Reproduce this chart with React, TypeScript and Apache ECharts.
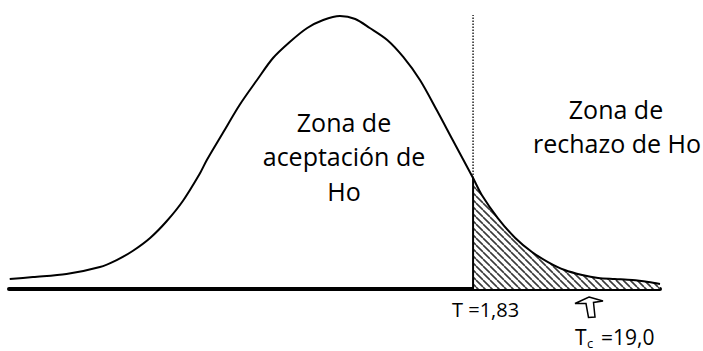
import React, { useEffect, useRef } from 'react';
import * as echarts from 'echarts';

// Curve: t (horizontal, schematic) and density height
const CURVE_T = [-4.54, -4.22, -3.76, -3.30, -3.07, -2.85, -2.61, -2.38, -2.16, -1.93, -1.83, -1.61, -1.38, -1.14, -0.92, -0.69, -0.45, -0.23, 0, 0.21, 0.41, 0.65, 0.87, 1.10, 1.33, 1.55, 1.83, 1.95, 2.17, 2.41, 2.64, 2.86, 3.09, 3.33, 3.55, 3.78, 4.02, 4.24, 4.40];
const CURVE_F = [0.0146, 0.0175, 0.0219, 0.0321, 0.0423, 0.0555, 0.0745, 0.0993, 0.1285, 0.1679, 0.1883, 0.2277, 0.2686, 0.3051, 0.3372, 0.3606, 0.3810, 0.3927, 0.3985, 0.3942, 0.3810, 0.3635, 0.3387, 0.3051, 0.2613, 0.2175, 0.1620, 0.1372, 0.1036, 0.0745, 0.0540, 0.0394, 0.0277, 0.0204, 0.0161, 0.0146, 0.0131, 0.0102, 0.0073];
const T_CRIT = 1.83;
const AXIS_MIN = -4.55;
const AXIS_MAX = 4.4;
const Y_MAX = 0.4;

const ACCEPT_LINES = ['Zona de', 'aceptación de', 'Ho'];
const REJECT_LINES = ['Zona de', 'rechazo de Ho'];
const T_LABEL = 'T =1,83';
const TC_MAIN = 'T';
const TC_SUB = 'c';
const TC_VALUE = '=19,0';

function makeHatch(): HTMLCanvasElement {
  const c = document.createElement('canvas');
  const p = 7;
  c.width = p;
  c.height = p;
  const ctx = c.getContext('2d')!;
  ctx.fillStyle = '#ffffff';
  ctx.fillRect(0, 0, p, p);
  ctx.strokeStyle = '#3a3a3a';
  ctx.lineWidth = 1.6;
  ctx.beginPath();
  for (const o of [-p, 0, p]) {
    ctx.moveTo(o, 0);
    ctx.lineTo(o + p, p);
  }
  ctx.stroke();
  return c;
}

export default function App() {
  const ref = useRef<HTMLDivElement>(null);
  useEffect(() => {
    if (!ref.current) return;
    const chart = echarts.init(ref.current, undefined, { renderer: 'svg' });
    const curve = CURVE_T.map((t, i) => [t, CURVE_F[i]]);
    const tail = curve.filter((p) => p[0] >= T_CRIT);
    const fAtT = CURVE_F[CURVE_T.indexOf(T_CRIT)];
    const font = (s: number) => `${s}px "Open Sans", sans-serif`;
    const txt = (text: string, x: number, y: number, size: number, align = 'center') => ({
      type: 'text',
      x,
      y,
      silent: true,
      style: { text, font: font(size), fill: '#000', align, verticalAlign: 'middle' },
    });

    chart.setOption({
      animation: false,
      backgroundColor: '#ffffff',
      grid: { left: 9, right: 43, top: 15, bottom: 62 },
      xAxis: {
        type: 'value',
        min: AXIS_MIN,
        max: AXIS_MAX,
        axisLine: { show: true, onZero: false, lineStyle: { color: '#000', width: 4 } },
        axisTick: { show: false },
        axisLabel: { show: false },
        splitLine: { show: false },
      },
      yAxis: {
        type: 'value',
        min: 0,
        max: Y_MAX,
        show: false,
        splitLine: { show: false },
      },
      series: [
        {
          type: 'line',
          data: tail,
          smooth: 0.3,
          symbol: 'none',
          lineStyle: { width: 0, opacity: 0 },
          areaStyle: { color: { image: makeHatch(), repeat: 'repeat' }, opacity: 1 },
          z: 1,
        },
        {
          type: 'line',
          data: [[T_CRIT, 0], [T_CRIT, fAtT]],
          symbol: 'none',
          lineStyle: { color: '#000', width: 2 },
          z: 2,
        },
        {
          type: 'line',
          data: [[T_CRIT, fAtT], [T_CRIT, Y_MAX]],
          symbol: 'none',
          lineStyle: { color: '#222', width: 1.5, type: [1.5, 1.5] },
          z: 2,
        },
        {
          type: 'line',
          data: curve,
          smooth: 0.3,
          symbol: 'none',
          lineStyle: { color: '#000', width: 2 },
          z: 3,
        },
      ],
      graphic: [
        txt(ACCEPT_LINES[0], 344, 122, 25),
        txt(ACCEPT_LINES[1], 344, 156, 25),
        txt(ACCEPT_LINES[2], 344, 191, 25),
        txt(REJECT_LINES[0], 616, 109, 25),
        txt(REJECT_LINES[1], 617, 143, 25),
        txt(T_LABEL, 452, 309, 20, 'left'),
        txt(TC_MAIN, 575, 337, 21, 'left'),
        txt(TC_SUB, 587, 343, 13, 'left'),
        txt(TC_VALUE, 601, 337, 21, 'left'),
        {
          type: 'polygon',
          silent: true,
          shape: {
            points: [
              [589, 297], [603, 301], [593.5, 302.5], [595, 317],
              [588.5, 317.5], [586, 303.5], [575, 303.5],
            ],
          },
          style: { fill: '#fff', stroke: '#000', lineWidth: 1.5 },
        },
      ],
    });
    return () => chart.dispose();
  }, []);
  return (
    <div
      ref={ref}
      style={{ position: 'absolute', left: 0, top: 0, width: 703, height: 351, background: '#fff' }}
    />
  );
}
